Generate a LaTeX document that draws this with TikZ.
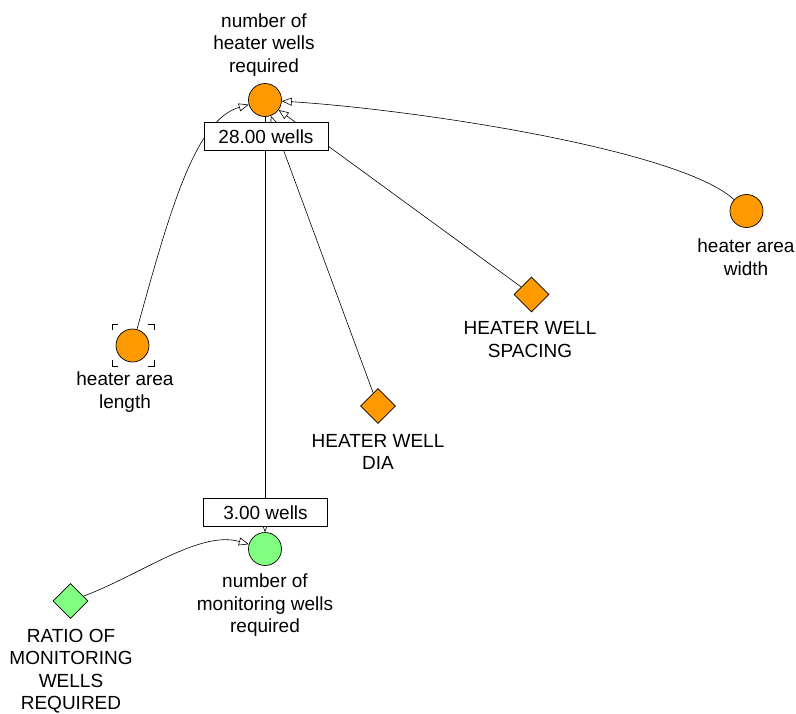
\documentclass[tikz,border=0pt]{standalone}
\usepackage{fontspec}
\setmainfont{Liberation Sans}
\usetikzlibrary{arrows.meta,shapes.geometric}
\definecolor{varorange}{RGB}{255,153,0}
\definecolor{vargreen}{RGB}{128,255,128}
\begin{document}
\begin{tikzpicture}[x=1pt,y=-1pt,
  every node/.style={font=\fontsize{19}{22.5}\selectfont},
  var/.style={circle,draw=black,line width=0.7pt,minimum size=33pt,inner sep=0pt},
  const/.style={diamond,draw=black,line width=0.7pt,minimum size=35pt,inner sep=0pt},
  lbl/.style={align=center,inner sep=0pt},
  valbox/.style={draw=black,fill=white,line width=0.7pt,minimum width=124pt,minimum height=27.5pt,inner sep=0pt},
  link/.style={line width=0.6pt,-{Triangle[open,length=10pt,width=8pt]}}]
\useasboundingbox (0,0) rectangle (796,713);

% variables and constants
\node[var,fill=varorange] (nhw) at (265,100) {};
\node[var,fill=varorange] (hal) at (132.5,345.5) {};
\node[var,fill=varorange] (haw) at (746.5,211) {};
\node[const,fill=varorange] (hws) at (531.5,294.5) {};
\node[const,fill=varorange] (hwd) at (378,406) {};
\node[var,fill=vargreen] (nmw) at (265,549) {};
\node[const,fill=vargreen] (rmw) at (70.5,601) {};

% labels
\node[lbl] (nhwl) at (264,45) {number of\\heater wells\\required};
\node[lbl] (hall) at (125,392) {heater area\\length};
\node[lbl] (hawl) at (746,257) {heater area\\width};
\node[lbl] (hwsl) at (530,339.5) {HEATER WELL\\SPACING};
\node[lbl] (hwdl) at (378,452) {HEATER WELL\\DIA};
\node[lbl] (nmwl) at (265,605.5) {number of\\monitoring wells\\required};
\node[lbl] (rmwl) at (71,671) {RATIO OF\\MONITORING\\WELLS\\REQUIRED};

% corner brackets marking heater area length
\draw[line width=0.9pt] (112,330) -- (112,324) -- (118,324)
  (148,324) -- (154,324) -- (154,330)
  (154,360) -- (154,366) -- (148,366)
  (118,366) -- (112,366) -- (112,360);

% influence links
\draw[link] (hal) .. controls (170,210) and (195,120) .. (nhw);
\draw[link] (haw) .. controls (680,150) and (420,110) .. (nhw);
\draw[link] (hws) -- (nhw);
\draw[link] (hwd) -- (nhw);
\draw[link] (nhw) -- (nmw);
\draw[link] (rmw) .. controls (140,575) and (200,530) .. (nmw);

% value boxes
\node[valbox] (v1) at (266,136.5) {28.00 wells};
\node[valbox] (v2) at (265.5,512.5) {3.00 wells};
\end{tikzpicture}
\end{document}
